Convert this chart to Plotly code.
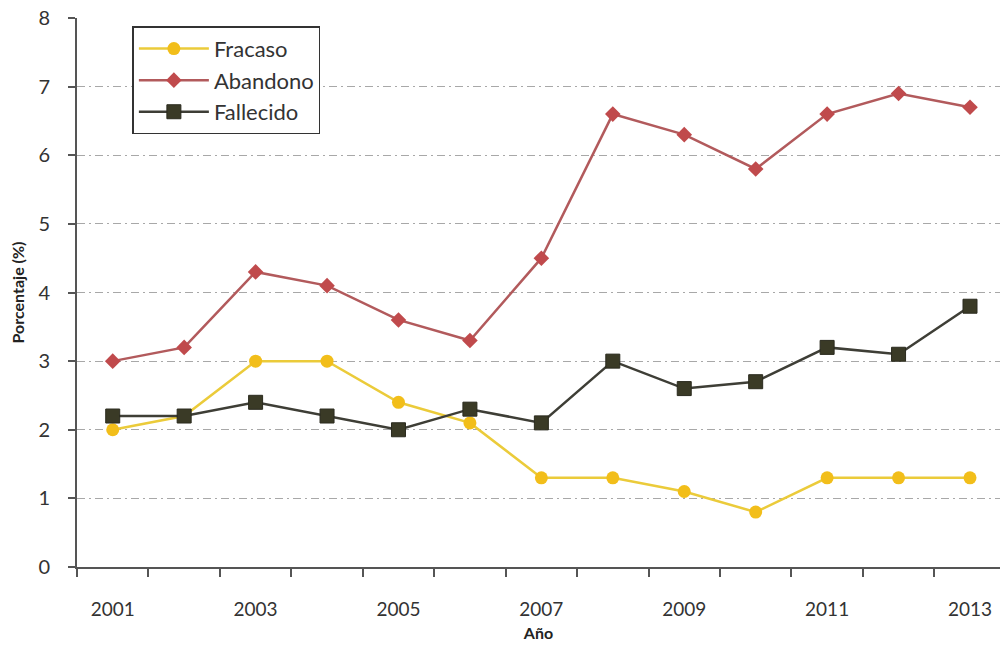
import plotly.graph_objects as go

years = list(range(2001, 2014))
fracaso = [2.0, 2.2, 3.0, 3.0, 2.4, 2.1, 1.3, 1.3, 1.1, 0.8, 1.3, 1.3, 1.3]
abandono = [3.0, 3.2, 4.3, 4.1, 3.6, 3.3, 4.5, 6.6, 6.3, 5.8, 6.6, 6.9, 6.7]
fallecido = [2.2, 2.2, 2.4, 2.2, 2.0, 2.3, 2.1, 3.0, 2.6, 2.7, 3.2, 3.1, 3.8]
x_labels = [2001, 2003, 2005, 2007, 2009, 2011, 2013]
y_ticks = list(range(0, 9))

font = "Lato, Open Sans, sans-serif"

fig = go.Figure()
fig.add_trace(go.Scatter(
    x=years, y=fracaso, name="Fracaso", mode="lines+markers",
    line=dict(color="#EBCB3A", width=2.5),
    marker=dict(symbol="circle", size=13, color="#F2BE1A"),
))
fig.add_trace(go.Scatter(
    x=years, y=abandono, name="Abandono", mode="lines+markers",
    line=dict(color="#B25A5C", width=2.5),
    marker=dict(symbol="diamond", size=12, color="#C04A4C"),
))
fig.add_trace(go.Scatter(
    x=years, y=fallecido, name="Fallecido", mode="lines+markers",
    line=dict(color="#3E3E36", width=2.5),
    marker=dict(symbol="square", size=14, color="#3A3A26",
                line=dict(color="#2A2A1E", width=1)),
))

fig.update_layout(
    width=1000, height=648,
    margin=dict(l=77, r=0, t=18, b=81),
    paper_bgcolor="white", plot_bgcolor="white",
    font=dict(family=font, color="#333333", size=19),
    showlegend=True,
    legend=dict(
        x=0.06, y=0.985, xanchor="left", yanchor="top",
        bordercolor="#333333", borderwidth=1.5, bgcolor="white",
        font=dict(size=22, color="#333333"),
        itemwidth=70, tracegroupgap=4,
    ),
    xaxis=dict(
        range=[2000.5, 2013.42],
        tickvals=x_labels, ticktext=[str(v) for v in x_labels],
        ticks="", showgrid=False, zeroline=False,
        showline=True, linecolor="#555555", linewidth=2,
        tickfont=dict(size=19, color="#333333"),
        ticklabelstandoff=24,
        minor=dict(tick0=2000.5, dtick=1, ticks="outside", ticklen=8,
                   tickcolor="#555555", tickwidth=2, showgrid=False),
        title=dict(text="<b>Año</b>", font=dict(size=16, color="#222222"), standoff=9),
    ),
    yaxis=dict(
        range=[0, 8], tickvals=y_ticks,
        ticks="outside", ticklen=7, tickcolor="#555555", tickwidth=2,
        showline=True, linecolor="#555555", linewidth=2,
        showgrid=True, gridcolor="#A8A8A8", gridwidth=1.2,
        griddash="8px,4px,2px,4px", zeroline=False,
        tickfont=dict(size=20, color="#333333"),
        ticklabelstandoff=14,
        title=dict(text="<b>Porcentaje (%)</b>", font=dict(size=16, color="#222222"), standoff=10),
    ),
)

fig.write_html("out.html")
